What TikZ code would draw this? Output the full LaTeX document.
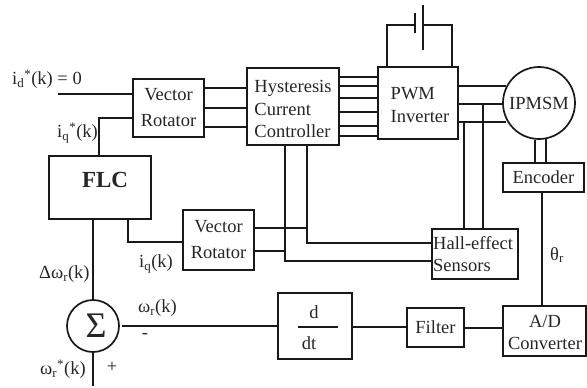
\documentclass[tikz,border=0pt]{standalone}
\usepackage{fontspec}
\setmainfont{Liberation Serif}
\newcommand{\fs}[2]{\fontsize{#1}{#2}\selectfont}
\tikzset{
  wire/.style={line width=1.5pt,black!90},
  boxn/.style={draw=black!90,line width=1.7pt,inner sep=0pt,font=\fs{18.5}{22},text=black!85},
  lab/.style={inner sep=0pt,font=\fs{18.5}{18},text=black!85},
  round/.style={draw=black!90,line width=1.7pt,circle,inner sep=0pt,text=black!85}
}
\begin{document}
\begin{tikzpicture}[x=1pt,y=-1pt]
\useasboundingbox (0,0) rectangle (587,388);
% blocks
\node[boxn,minimum width=71pt,minimum height=58pt,align=center,font=\fs{18.5}{26}] (vra) at (168.5,108) {Vector\\Rotator};
\node[boxn,minimum width=92pt,minimum height=77pt] (hcc) at (293,106.5) {};
\node[lab,align=left,font=\fs{18.5}{22.5}] (hcct) at (293,109) {Hysteresis\\Current\\Controller};
\node[boxn,minimum width=80pt,minimum height=72pt] (pwm) at (418,103) {};
\node[lab,align=left,font=\fs{18.5}{23}] (pwmt) at (420,105) {PWM\\Inverter};
\node[round,minimum size=72pt,font=\fs{18.5}{18}] (mot) at (539,103) {IPMSM};
\node[boxn,minimum width=81pt,minimum height=29pt] (enc) at (543.5,177.5) {Encoder};
\node[boxn,minimum width=102pt,minimum height=63pt] (flc) at (100,187.5) {};
\node[lab,font=\fs{23}{24}\bfseries] (flct) at (105,180) {FLC};
\node[boxn,minimum width=71pt,minimum height=60pt,align=center,font=\fs{18.5}{26}] (vrb) at (218.5,240) {Vector\\Rotator};
\node[boxn,minimum width=86pt,minimum height=50pt] (hall) at (475,254) {};
\node[lab,align=left,font=\fs{18.5}{22},anchor=west] (hallt) at (433,254) {Hall-effect\\Sensors};
\node[round,minimum size=52pt,font=\fs{36}{36}] (sum) at (93,326) {\hspace*{6pt}Σ};
\node[boxn,minimum width=74pt,minimum height=66pt] (ddt) at (315,326) {};
\node[lab] (dn) at (314,312) {d};
\node[lab] (dd) at (309,343) {dt};
\coordinate (barl) at (298,327);
\coordinate (barr) at (338,327);
\node[boxn,minimum width=57pt,minimum height=39pt] (fil) at (435.5,327.5) {Filter};
\node[boxn,minimum width=83pt,minimum height=50pt] (adc) at (544.5,331) {};
\node[lab,align=center,font=\fs{18.5}{22}] (adct) at (545,332) {A/D\\Converter};
\draw[wire] (barl) -- (barr);
% free ends and bends
\coordinate (ina) at (58,94);
\coordinate (bot) at (95,386);
\coordinate (iqb) at (99,118);
\coordinate (fb) at (128,242);
\coordinate (ha) at (285,261);
\coordinate (hb) at (307,243);
\coordinate (ma) at (0,86);
\coordinate (mb) at (0,104);
\coordinate (mc) at (0,122);
% input side
\draw[wire] (ina) -- (vra.west |- ina);
\draw[wire] (flc.north -| iqb) -- (iqb) -- (vra.west |- iqb);
\foreach \yy in {88,108,127} \draw[wire] (vra.east |- 0,\yy) -- (hcc.west |- 0,\yy);
\foreach \yy in {77,86,98,112,126,136} \draw[wire] (hcc.east |- 0,\yy) -- (pwm.west |- 0,\yy);
% inverter to motor
\draw[wire] (pwm.east |- ma) -- (mot.152 |- ma);
\draw[wire] (pwm.east |- mb) -- (mot.west |- mb);
\draw[wire] (pwm.east |- mc) -- (mot.208 |- mc);
% battery
\coordinate (ca) at (415,25);
\coordinate (cb) at (423,25);
\draw[wire] (pwm.north -| 387,0) -- (387,25) -- (ca);
\draw[wire] (cb) -- (452,25) -- (pwm.north -| 452,0);
\draw[wire] (415,13) -- (415,33);
\draw[wire] (423,5) -- (423,50);
% motor to encoder
\draw[wire] (mot.264) -- (enc.north -| mot.264);
\draw[wire] (mot.281) -- (enc.north -| mot.281);
\draw[wire] (enc.south -| 542,0) -- (adc.north -| 542,0);
% sensors
\draw[wire] (464,122) -- (hall.north -| 464,0);
\draw[wire] (483,104) -- (hall.north -| 483,0);
\draw[wire] (hcc.south -| ha) -- (ha) -- (hall.west |- ha);
\draw[wire] (hcc.south -| hb) -- (hb) -- (hall.west |- hb);
\draw[wire] (vrb.east |- 0,228) -- (hb |- 0,228);
\draw[wire] (vrb.east |- 0,251) -- (ha |- 0,251);
% controller
\draw[wire] (flc.south -| fb) -- (fb) -- (vrb.west |- fb);
\draw[wire] (flc.south -| sum) -- (sum.north);
\draw[wire] (sum.south) -- (sum.south |- bot);
\draw[wire] (122,326) -- (ddt.west |- 0,326);
\draw[wire] (ddt.east |- 0,327) -- (fil.west |- 0,327);
\draw[wire] (fil.east |- 0,328) -- (adc.west |- 0,328);
% labels
\node[lab,anchor=west] (l1) at (12,79) {i\textsubscript{d}\textsuperscript{*}(k) = 0};
\node[lab,anchor=west] (l2) at (57,133) {i\textsubscript{q}\textsuperscript{*}(k)};
\node[lab,anchor=west] (l3) at (139,264) {i\textsubscript{q}(k)};
\node[lab,anchor=west] (l4) at (39,274) {Δω\textsubscript{r}(k)};
\node[lab,anchor=west] (l5) at (138,308) {ω\textsubscript{r}(k)};
\node[lab,anchor=west] (l6) at (40,369) {ω\textsubscript{r}\textsuperscript{*}(k)};
\node[lab] (l7) at (145,336) {-};
\node[lab] (l8) at (112,367) {+};
\node[lab] (l9) at (557,255) {θ\textsubscript{r}};
\end{tikzpicture}
\end{document}
